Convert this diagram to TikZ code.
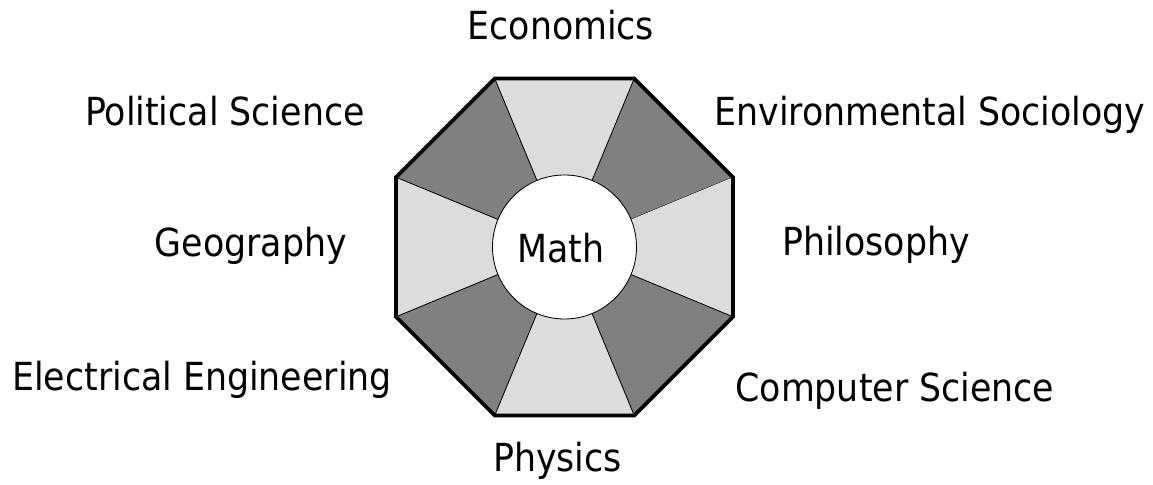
\documentclass[tikz,border=0pt]{standalone}
\usepackage{fontspec}
\setmainfont{DejaVu Sans Condensed}
\usepackage{xcolor}
\usepackage{tikz}
\usetikzlibrary{calc}
\definecolor{SectorLight}{RGB}{220,220,220}
\definecolor{SectorDark}{RGB}{128,128,128}

\begin{document}
\begin{tikzpicture}[
  field/.style={anchor=base, inner sep=0pt, font=\fontsize{27.5}{31}\selectfont},
  hub/.style={draw, circle, fill=white, minimum size=3.6cm, inner sep=0pt,
    line width=0.6pt, font=\fontsize{27.5}{31}\selectfont},
  divider/.style={line width=0.6pt},
  rim/.style={line width=2.6pt, line join=miter}
]
\useasboundingbox (-14.1125,-5.95) rectangle (14.7125,6.175);

% Octagon corners
\foreach \k in {0,...,7} {
  \coordinate (v\k) at ({22.5+45*\k}:4.56);
}
\coordinate (c) at (0,0);

% Sectors, dark and light in turn
\foreach \k [evaluate=\k as \n using {int(mod(\k+1,8))}] in {0,...,7} {
  \pgfmathparse{mod(\k,2)==0 ? "SectorDark" : "SectorLight"}
  \edef\shade{\pgfmathresult}
  \fill[\shade] (c) -- (v\k) -- (v\n) -- cycle;
  \draw[divider] (c) -- (v\k);
}

% Centre
\node[hub] (math) at (c) {};
\node[field] (mathlabel) at (-0.09,-0.4) {Math};

\draw[rim] (v0) -- (v1) -- (v2) -- (v3) -- (v4) -- (v5) -- (v6) -- (v7) -- cycle;

% Fields round the octagon
\node[field] (econ)  at (-0.09,5.175)  {Economics};
\node[field] (envsoc) at (9.14,3.025)  {Environmental Sociology};
\node[field] (phil)  at (7.79,-0.225)  {Philosophy};
\node[field] (compsci) at (8.26,-3.875) {Computer Science};
\node[field] (phys)  at (-0.175,-5.625) {Physics};
\node[field] (eleceng) at (-9.06,-3.6) {Electrical Engineering};
\node[field] (geo)   at (-7.84,-0.25)  {Geography};
\node[field] (polsci) at (-8.49,3.025) {Political Science};
\end{tikzpicture}
\end{document}
